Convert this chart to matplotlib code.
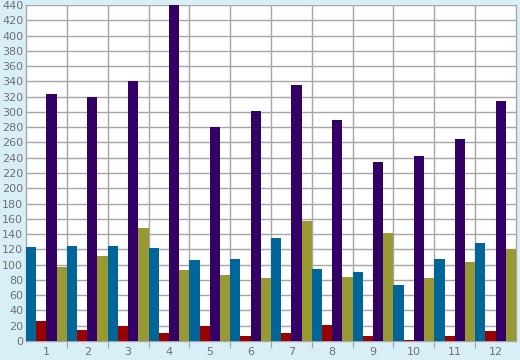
import numpy as np
import matplotlib.pyplot as plt

months = list(range(1, 13))
blue_vals = [123, 124, 125, 122, 106, 108, 135, 94, 90, 73, 108, 128]
red_vals = [26, 15, 19, 11, 19, 6, 10, 21, 7, 1, 6, 13]
purple_vals = [324, 320, 341, 460, 280, 301, 335, 290, 234, 242, 265, 314]
olive_vals = [97, 111, 148, 93, 86, 82, 157, 84, 141, 82, 103, 120]

series = [blue_vals, red_vals, purple_vals, olive_vals]
colors = ["#006699", "#990000", "#330066", "#999933"]
bg = "#d9eff7"
grid_c = "#a6a6a6"
text_c = "#707070"

plt.rcParams["font.family"] = ["DejaVu Sans"]

fig = plt.figure(figsize=(5.2, 3.6), dpi=100, facecolor=bg)
ax = fig.add_axes([26 / 520, 19 / 360, 490 / 520, 336 / 360])
ax.set_facecolor("white")

x = np.array(months, dtype=float)
w = 0.25
for i, (vals, col) in enumerate(zip(series, colors)):
    ax.bar(x - 0.375 + i * w, vals, width=w, color=col, linewidth=0, zorder=3)

ax.set_xlim(0.5, 12.5)
ax.set_ylim(0, 440)
ax.set_yticks(np.arange(0, 441, 20))

# group boundaries carry the vertical grid and the tick marks
bounds = np.arange(1.5, 12.5, 1.0)
for b in bounds:
    ax.axvline(b, color=grid_c, lw=1, zorder=1)
ax.yaxis.grid(True, color=grid_c, lw=1, zorder=1)
ax.set_axisbelow(True)

ax.set_xticks(bounds)
ax.set_xticklabels([])
ax.tick_params(axis="x", which="major", length=5, color=grid_c, direction="out")
ax.set_xticks(x, minor=True)
ax.set_xticklabels([str(m) for m in months], minor=True)
ax.tick_params(axis="x", which="minor", length=0, pad=4, labelsize=8, labelcolor=text_c)
ax.tick_params(axis="y", length=0, pad=2, labelsize=8, labelcolor=text_c)

for s in ax.spines.values():
    s.set_color(grid_c)
    s.set_linewidth(1)
ax.spines["top"].set_visible(False)

fig.savefig("out.png", dpi=100, facecolor=bg)
